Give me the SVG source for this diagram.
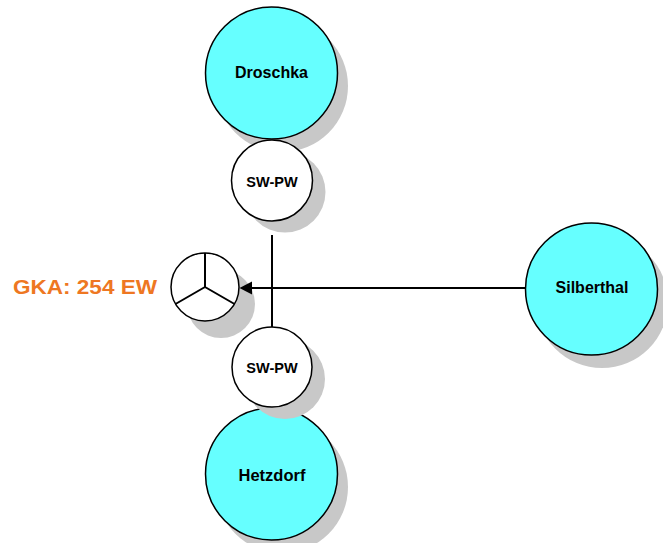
<svg xmlns="http://www.w3.org/2000/svg" width="663" height="543" viewBox="0 0 663 543">
<defs>
<style>
.sh{fill:#c8c8c8;stroke:none}
.big{fill:#66ffff;stroke:#000;stroke-width:1.5}
.sm{fill:#fff;stroke:#000;stroke-width:1.5}
.lbl{font-family:"Liberation Sans",Arial,sans-serif;font-weight:bold;fill:#000;text-anchor:middle}
.ln{stroke:#000;stroke-width:2;fill:none}
.ah{fill:#000;stroke:none}
</style>
</defs>
<rect width="663" height="543" fill="#fff"/>
<g id="droschka">
<circle class="sh" cx="282" cy="86" r="66"/>
<circle class="big" cx="271.5" cy="73" r="66"/>
<text class="lbl" x="271.5" y="78" font-size="16">Droschka</text>
</g>
<g id="swpw-top">
<circle class="sh" cx="285" cy="192" r="40.5"/>
<circle class="sm" cx="272" cy="180.5" r="40.5"/>
<text class="lbl" x="272" y="187" font-size="14.5">SW-PW</text>
</g>
<g id="hetzdorf">
<circle class="sh" cx="282" cy="487" r="66"/>
<circle class="big" cx="271.5" cy="474" r="66"/>
<text class="lbl" x="272" y="481" font-size="16.5">Hetzdorf</text>
</g>
<g id="swpw-bottom">
<circle class="sh" cx="285" cy="379" r="40"/>
<circle class="sm" cx="272" cy="367" r="40"/>
<text class="lbl" x="272" y="373" font-size="14.5">SW-PW</text>
</g>
<g id="silberthal">
<circle class="sh" cx="602" cy="302" r="66"/>
<circle class="big" cx="591.5" cy="289" r="66"/>
<text class="lbl" x="592" y="293" font-size="16">Silberthal</text>
</g>
<g id="gka">
<circle class="sh" cx="221" cy="304" r="34"/>
<circle class="sm" cx="205" cy="287" r="34"/>
<path d="M205,253 L205,287 M205,287 L175.5,304 M205,287 L234.5,304" stroke="#000" stroke-width="2" fill="none"/>
<text x="13" y="294" font-family="'Liberation Sans',Arial,sans-serif" font-weight="bold" font-size="20" fill="#ee7722" textLength="144" lengthAdjust="spacingAndGlyphs">GKA: 254 EW</text>
</g>
<g id="connectors">
<line class="ln" x1="272" y1="235" x2="272" y2="327"/>
<line class="ln" x1="525" y1="288" x2="250" y2="288"/>
<polygon class="ah" points="239.5,288 252,281.5 252,294.5"/>
</g>
</svg>
